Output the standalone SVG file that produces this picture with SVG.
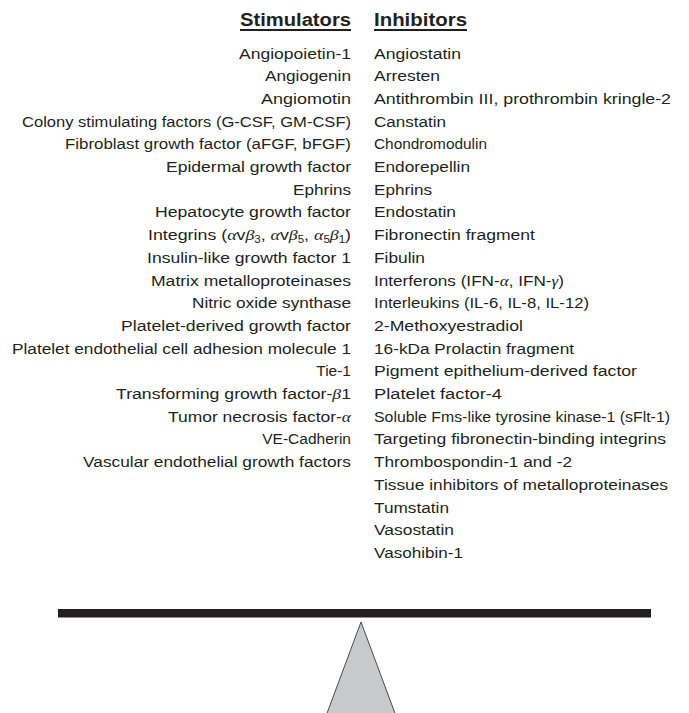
<svg xmlns="http://www.w3.org/2000/svg" width="689" height="713" viewBox="0 0 689 713">
<style>
text{font-family:"Liberation Sans",Arial,sans-serif;fill:#231f20;font-size:15.5px}
.l{text-anchor:end}
.h{font-weight:bold;font-size:18px}
.g{font-family:"Liberation Serif","DejaVu Serif",serif;font-style:italic}
.s{font-size:10px}
</style>
<rect width="689" height="713" fill="#fff"/>
<g id="headers">
<text class="h l" x="351" y="26" textLength="111" lengthAdjust="spacingAndGlyphs">Stimulators</text>
<rect x="240" y="29" width="111" height="2" fill="#231f20"/>
<text class="h" x="374" y="26" textLength="93" lengthAdjust="spacingAndGlyphs">Inhibitors</text>
<rect x="374" y="29" width="93" height="2" fill="#231f20"/>
</g>
<g id="stimulators">
<text class="l" x="351" y="58.5" textLength="112" lengthAdjust="spacingAndGlyphs">Angiopoietin-1</text>
<text class="l" x="351" y="81.2" textLength="86" lengthAdjust="spacingAndGlyphs">Angiogenin</text>
<text class="l" x="351" y="103.9" textLength="90" lengthAdjust="spacingAndGlyphs">Angiomotin</text>
<text class="l" x="351" y="126.6" textLength="329" lengthAdjust="spacingAndGlyphs">Colony stimulating factors (G-CSF, GM-CSF)</text>
<text class="l" x="351" y="149.3" textLength="286" lengthAdjust="spacingAndGlyphs">Fibroblast growth factor (aFGF, bFGF)</text>
<text class="l" x="351" y="172.0" textLength="185" lengthAdjust="spacingAndGlyphs">Epidermal growth factor</text>
<text class="l" x="351" y="194.7" textLength="58" lengthAdjust="spacingAndGlyphs">Ephrins</text>
<text class="l" x="351" y="217.4" textLength="196" lengthAdjust="spacingAndGlyphs">Hepatocyte growth factor</text>
<text class="l" x="351" y="240.1" textLength="203" lengthAdjust="spacingAndGlyphs">Integrins (<tspan class="g">α</tspan>v<tspan class="g">β</tspan><tspan class="s" dy="3">3</tspan><tspan dy="-3">, </tspan><tspan class="g">α</tspan>v<tspan class="g">β</tspan><tspan class="s" dy="3">5</tspan><tspan dy="-3">, </tspan><tspan class="g">α</tspan><tspan class="s" dy="3">5</tspan><tspan class="g" dy="-3">β</tspan><tspan class="s" dy="3">1</tspan><tspan dy="-3">)</tspan></text>
<text class="l" x="351" y="262.8" textLength="204" lengthAdjust="spacingAndGlyphs">Insulin-like growth factor 1</text>
<text class="l" x="351" y="285.5" textLength="200" lengthAdjust="spacingAndGlyphs">Matrix metalloproteinases</text>
<text class="l" x="351" y="308.2" textLength="159" lengthAdjust="spacingAndGlyphs">Nitric oxide synthase</text>
<text class="l" x="351" y="330.9" textLength="230" lengthAdjust="spacingAndGlyphs">Platelet-derived growth factor</text>
<text class="l" x="351" y="353.6" textLength="339" lengthAdjust="spacingAndGlyphs">Platelet endothelial cell adhesion molecule 1</text>
<text class="l" x="351" y="376.3">Tie-1</text>
<text class="l" x="351" y="399.0" textLength="235" lengthAdjust="spacingAndGlyphs">Transforming growth factor-<tspan class="g">β</tspan>1</text>
<text class="l" x="351" y="421.7" textLength="183" lengthAdjust="spacingAndGlyphs">Tumor necrosis factor-<tspan class="g">α</tspan></text>
<text class="l" x="351" y="444.4">VE-Cadherin</text>
<text class="l" x="351" y="467.1" textLength="268" lengthAdjust="spacingAndGlyphs">Vascular endothelial growth factors</text>
</g>
<g id="inhibitors">
<text x="374" y="58.5" textLength="87" lengthAdjust="spacingAndGlyphs">Angiostatin</text>
<text x="374" y="81.2" textLength="66" lengthAdjust="spacingAndGlyphs">Arresten</text>
<text x="374" y="103.9" textLength="297" lengthAdjust="spacingAndGlyphs">Antithrombin III, prothrombin kringle-2</text>
<text x="374" y="126.6" textLength="72" lengthAdjust="spacingAndGlyphs">Canstatin</text>
<text x="374" y="149.3" textLength="113" lengthAdjust="spacingAndGlyphs">Chondromodulin</text>
<text x="374" y="172.0" textLength="96" lengthAdjust="spacingAndGlyphs">Endorepellin</text>
<text x="374" y="194.7" textLength="58" lengthAdjust="spacingAndGlyphs">Ephrins</text>
<text x="374" y="217.4" textLength="82" lengthAdjust="spacingAndGlyphs">Endostatin</text>
<text x="374" y="240.1" textLength="161" lengthAdjust="spacingAndGlyphs">Fibronectin fragment</text>
<text x="374" y="262.8" textLength="51" lengthAdjust="spacingAndGlyphs">Fibulin</text>
<text x="374" y="285.5" textLength="190" lengthAdjust="spacingAndGlyphs">Interferons (IFN-<tspan class="g">α</tspan>, IFN-<tspan class="g">γ</tspan>)</text>
<text x="374" y="308.2" textLength="215" lengthAdjust="spacingAndGlyphs">Interleukins (IL-6, IL-8, IL-12)</text>
<text x="374" y="330.9" textLength="149" lengthAdjust="spacingAndGlyphs">2-Methoxyestradiol</text>
<text x="374" y="353.6" textLength="200" lengthAdjust="spacingAndGlyphs">16-kDa Prolactin fragment</text>
<text x="374" y="376.3" textLength="263" lengthAdjust="spacingAndGlyphs">Pigment epithelium-derived factor</text>
<text x="374" y="399.0" textLength="128" lengthAdjust="spacingAndGlyphs">Platelet factor-4</text>
<text x="374" y="421.7" textLength="296" lengthAdjust="spacingAndGlyphs">Soluble Fms-like tyrosine kinase-1 (sFlt-1)</text>
<text x="374" y="444.4" textLength="292" lengthAdjust="spacingAndGlyphs">Targeting fibronectin-binding integrins</text>
<text x="374" y="467.1" textLength="198" lengthAdjust="spacingAndGlyphs">Thrombospondin-1 and -2</text>
<text x="374" y="489.8" textLength="294" lengthAdjust="spacingAndGlyphs">Tissue inhibitors of metalloproteinases</text>
<text x="374" y="512.5" textLength="75" lengthAdjust="spacingAndGlyphs">Tumstatin</text>
<text x="374" y="535.2" textLength="80" lengthAdjust="spacingAndGlyphs">Vasostatin</text>
<text x="374" y="557.9" textLength="89" lengthAdjust="spacingAndGlyphs">Vasohibin-1</text>
</g>
<g id="balance">
<rect x="58" y="609" width="593" height="8.5" fill="#231f20"/>
<polygon points="361,622 326,716 396,716" fill="#c8c9cb" stroke="#4a4a4a" stroke-width="1"/>
</g>
</svg>
